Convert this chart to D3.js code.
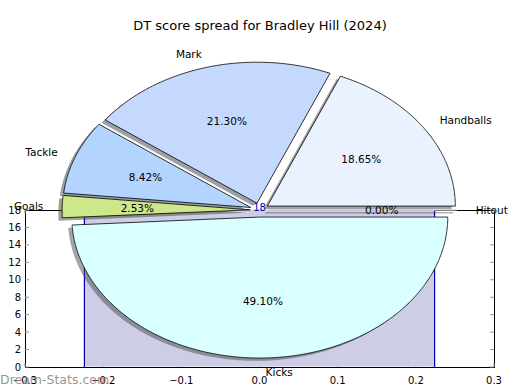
<!DOCTYPE html>
<html>
<head>
<meta charset="utf-8">
<script src="https://cdn.jsdelivr.net/npm/d3@7/dist/d3.min.js"></script>
<style>
  html, body { margin: 0; padding: 0; background: #fff; }
  svg { display: block; font-family: "DejaVu Sans", sans-serif; }
</style>
</head>
<body>
<svg id="chart" width="520" height="390"></svg>
<script>
// ---- data ----
const title = "DT score spread for Bradley Hill (2024)";
const categories = ["Handballs", "Mark", "Tackle", "Goals", "Kicks", "Hitout"];
const shares = [18.65, 21.30, 8.42, 2.53, 49.10, 0.00];
const sliceColors = ["#ebf2ff", "#c5d9ff", "#b3d4ff", "#cce88a", "#d9ffff", "#f0f0f0"];
const barX = [-0.224, 0.224];
const barValues = [18];
const xTicks = [-0.3, -0.2, -0.1, 0.0, 0.1, 0.2, 0.3];
const yTicks = [0, 2, 4, 6, 8, 10, 12, 14, 16, 18];
const watermark = "Dream-Stats.com";

// ---- layout ----
const svg = d3.select("#chart");
const W = 520, H = 390;
const plot = { left: 25, right: 494, top: 210, bottom: 367 };
const x = d3.scaleLinear().domain([-0.3, 0.3]).range([plot.left, plot.right]);
const y = d3.scaleLinear().domain([0, 18]).range([plot.bottom, plot.top]);

// pie unit coordinates -> pixels (non-equal aspect like the reference)
const pcx = 259.5, pcy = 210, rx = 188, ry = 141;
const px = d3.scaleLinear().domain([-1, 1]).range([pcx - rx, pcx + rx]);
const py = d3.scaleLinear().domain([-1, 1]).range([pcy + ry, pcy - ry]);
const explode = 0.05, shadowOff = 0.02;

// title
svg.append("text").attr("x", W / 2).attr("y", 30).attr("text-anchor", "middle")
  .attr("font-size", 13).attr("fill", "#000").text(title);

const g = svg.append("g");

// spines
g.append("rect").attr("x", plot.left).attr("y", plot.top)
  .attr("width", plot.right - plot.left).attr("height", plot.bottom - plot.top)
  .attr("fill", "none").attr("stroke", "#000").attr("stroke-width", 1)
  .attr("shape-rendering", "crispEdges");

// ticks (inside, all four sides)
const tickCol = "#999", tl = 4;
xTicks.forEach(t => {
  g.append("line").attr("x1", x(t)).attr("x2", x(t)).attr("y1", plot.bottom).attr("y2", plot.bottom - tl)
    .attr("stroke", tickCol);
  g.append("line").attr("x1", x(t)).attr("x2", x(t)).attr("y1", plot.top).attr("y2", plot.top + tl)
    .attr("stroke", tickCol);
});
yTicks.forEach(t => {
  g.append("line").attr("x1", plot.left).attr("x2", plot.left + tl).attr("y1", y(t)).attr("y2", y(t))
    .attr("stroke", tickCol);
  g.append("line").attr("x1", plot.right).attr("x2", plot.right - tl).attr("y1", y(t)).attr("y2", y(t))
    .attr("stroke", tickCol);
});

// tick labels
const fmtX = d => (d < 0 ? "\u2212" : "") + Math.abs(d).toFixed(1);
xTicks.forEach(t => {
  g.append("text").attr("x", x(t)).attr("y", plot.bottom + 17).attr("text-anchor", "middle")
    .attr("font-size", 10).text(fmtX(t));
});
yTicks.forEach(t => {
  g.append("text").attr("x", plot.left - 4).attr("y", y(t)).attr("dy", "0.36em").attr("text-anchor", "end")
    .attr("font-size", 10).text(t);
});

// bar (area) with blue edges
barValues.forEach(v => {
  g.append("rect").attr("x", x(barX[0])).attr("y", y(v) - 0.5)
    .attr("width", x(barX[1]) - x(barX[0])).attr("height", y(0) - y(v))
    .attr("fill", "#cdcde6");
  [barX[0], barX[1]].forEach(bx => {
    g.append("line").attr("x1", x(bx)).attr("x2", x(bx)).attr("y1", y(0)).attr("y2", y(v))
      .attr("stroke", "#0000aa").attr("stroke-width", 1.2);
  });
  g.append("text").attr("x", x(0)).attr("y", y(v) + 1).attr("text-anchor", "middle")
    .attr("font-size", 10).attr("fill", "#0000aa").text(v);
});

// ---- pie ----
const pie = d3.pie().sort(null).value(d => d)(shares);
const slices = pie.map((p, i) => {
  const t1 = p.startAngle, t2 = p.endAngle, tm = (t1 + t2) / 2;
  return { i, t1, t2, tm, ox: explode * Math.cos(tm), oy: explode * Math.sin(tm) };
});

function wedgePath(s, dx, dy) {
  const p = d3.path();
  const cx0 = s.ox + dx, cy0 = s.oy + dy;
  p.moveTo(px(cx0), py(cy0));
  const n = Math.max(1, Math.ceil((s.t2 - s.t1) / (Math.PI / 360)));
  for (let k = 0; k <= n; k++) {
    const t = s.t1 + (s.t2 - s.t1) * k / n;
    p.lineTo(px(cx0 + Math.cos(t)), py(cy0 + Math.sin(t)));
  }
  p.closePath();
  return p.toString();
}

const pg = svg.append("g");
// shadows first
slices.forEach(s => {
  const c = d3.rgb(sliceColors[s.i]);
  const sc = d3.rgb(c.r * 0.3, c.g * 0.3, c.b * 0.3);
  pg.append("path").attr("d", wedgePath(s, -shadowOff, -shadowOff))
    .attr("fill", sc).attr("fill-opacity", 0.5)
    .attr("stroke", sc).attr("stroke-opacity", s.t2 - s.t1 < 1e-6 ? 0.35 : 0)
    .attr("stroke-width", 1);
});
slices.forEach(s => {
  const zero = s.t2 - s.t1 < 1e-6;
  pg.append("path").attr("d", wedgePath(s, 0, 0))
    .attr("fill", sliceColors[s.i])
    .attr("stroke", zero ? "#c8c8c8" : "#000").attr("stroke-width", 0.8)
    .attr("stroke-linejoin", "round");
});

// labels
slices.forEach(s => {
  const lx = s.ox + 1.1 * Math.cos(s.tm), ly = s.oy + 1.1 * Math.sin(s.tm);
  pg.append("text").attr("x", px(lx)).attr("y", py(ly)).attr("dy", "0.36em")
    .attr("text-anchor", lx > 0 ? "start" : "end").attr("font-size", 10.5)
    .text(categories[s.i]);
  const qx = s.ox + 0.6 * Math.cos(s.tm), qy = s.oy + 0.6 * Math.sin(s.tm);
  pg.append("text").attr("x", px(qx)).attr("y", py(qy)).attr("dy", "0.36em")
    .attr("text-anchor", "middle").attr("font-size", 10.5)
    .text(shares[s.i].toFixed(2) + "%");
});

// watermark
svg.append("text").attr("x", 0).attr("y", 384).attr("font-size", 12.5)
  .attr("fill", "#808080").attr("fill-opacity", 0.85).text(watermark);
</script>
</body>
</html>
